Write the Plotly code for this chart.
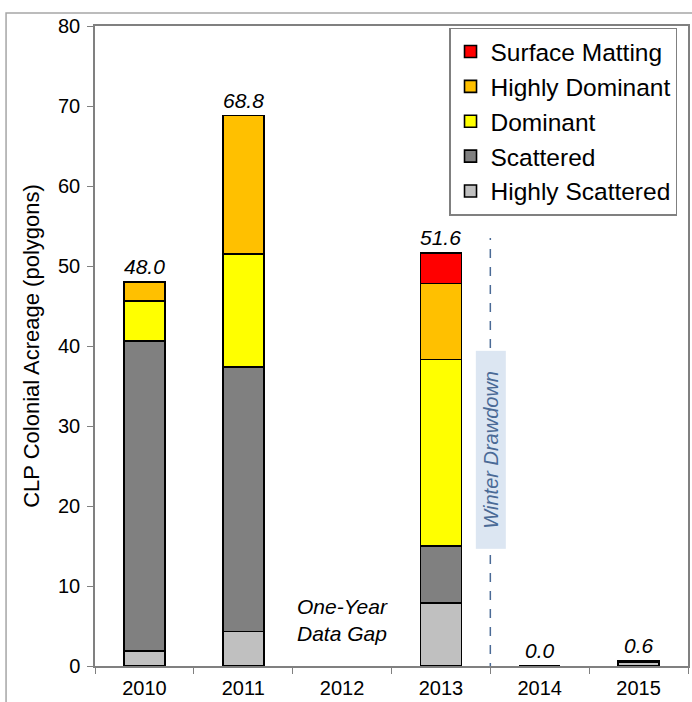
import plotly.graph_objects as go

years = ["2010", "2011", "2012", "2013", "2014", "2015"]
highly_scattered = [1.9, 4.3, None, 7.9, 0.0, 0.5]
scattered = [38.7, 33.1, None, 7.1, 0.0, 0.1]
dominant = [5.0, 14.1, None, 23.3, 0.0, 0.0]
highly_dominant = [2.4, 17.3, None, 9.5, 0.0, 0.0]
surface_matting = [0.0, 0.0, None, 3.8, 0.0, 0.0]
totals = [48.0, 68.8, None, 51.6, 0.0, 0.6]
total_labels = ["48.0", "68.8", None, "51.6", "0.0", "0.6"]

series = [
    ("Highly Scattered", highly_scattered, "#C0C0C0"),
    ("Scattered", scattered, "#808080"),
    ("Dominant", dominant, "#FFFF00"),
    ("Highly Dominant", highly_dominant, "#FFC000"),
    ("Surface Matting", surface_matting, "#FF0000"),
]

FONT = "Liberation Sans, Arial, sans-serif"
fig = go.Figure()
for i, (name, vals, color) in enumerate(series):
    fig.add_trace(go.Bar(
        x=years, y=vals, name=name, legendgroup=name, legendrank=len(series) - i,
        marker=dict(color=color, line=dict(color="black", width=1.6)),
        width=0.415,
    ))

annotations = []
for idx, (t, lab) in enumerate(zip(totals, total_labels)):
    if t is None:
        continue
    annotations.append(dict(x=idx, y=t, text=lab, showarrow=False, yanchor="bottom",
                            yshift=2, font=dict(family=FONT, size=21, color="black", style="italic")))
annotations.append(dict(x=years.index("2012"), y=5.75, text="One-Year<br>Data Gap", showarrow=False,
                        font=dict(family=FONT, size=21, color="black", style="italic")))
annotations.append(dict(x=3.5, y=27.0, text="Winter Drawdown", showarrow=False, textangle=-90,
                        bgcolor="#DCE6F2", width=195, height=27, borderpad=1,
                        font=dict(family=FONT, size=20, color="#4A6A96", style="italic")))

fig.update_layout(
    width=692, height=702,
    barmode="stack",
    plot_bgcolor="white", paper_bgcolor="white",
    margin=dict(l=95, r=4, t=26, b=36, autoexpand=False),
    font=dict(family=FONT, size=20, color="black"),
    showlegend=True,
    legend=dict(x=0.597, y=0.9975, xanchor="left", yanchor="top",
                traceorder="grouped", tracegroupgap=0,
                bordercolor="#808080", borderwidth=1.5, bgcolor="white",
                font=dict(family=FONT, size=24.5, color="black"),
                itemwidth=30),
    annotations=annotations,
    shapes=[
        dict(type="line", xref="x", yref="y", x0=3.5, x1=3.5, y0=-3.0, y1=53.5,
             line=dict(color="#4A6A96", width=1.5, dash="dash"), layer="below"),
        dict(type="rect", xref="paper", yref="paper", x0=-0.150, x1=1.03, y0=-0.2, y1=1.0203,
             line=dict(color="#A6A6A6", width=1.5), fillcolor="rgba(0,0,0,0)"),
    ],
    xaxis=dict(type="category", range=[-0.5, 5.5], showline=True, linecolor="#808080", linewidth=1.5,
               mirror=True, ticks="outside", tickson="boundaries", ticklen=6, automargin=False,
               ticklabelstandoff=3,
               tickcolor="#808080", tickfont=dict(size=20), showgrid=False),
    yaxis=dict(range=[0, 80], dtick=10, showline=True, linecolor="#808080", linewidth=1.5,
               mirror=True, ticks="outside", ticklen=6, tickcolor="#808080", automargin=False,
               ticklabelstandoff=3,
               tickfont=dict(size=20), showgrid=False, zeroline=False,
               title=dict(text="CLP Colonial Acreage (polygons)", font=dict(size=22), standoff=12)),
)

fig.write_html("out.html", config={"displayModeBar": False},
               post_script="document.body.style.margin='0';")
